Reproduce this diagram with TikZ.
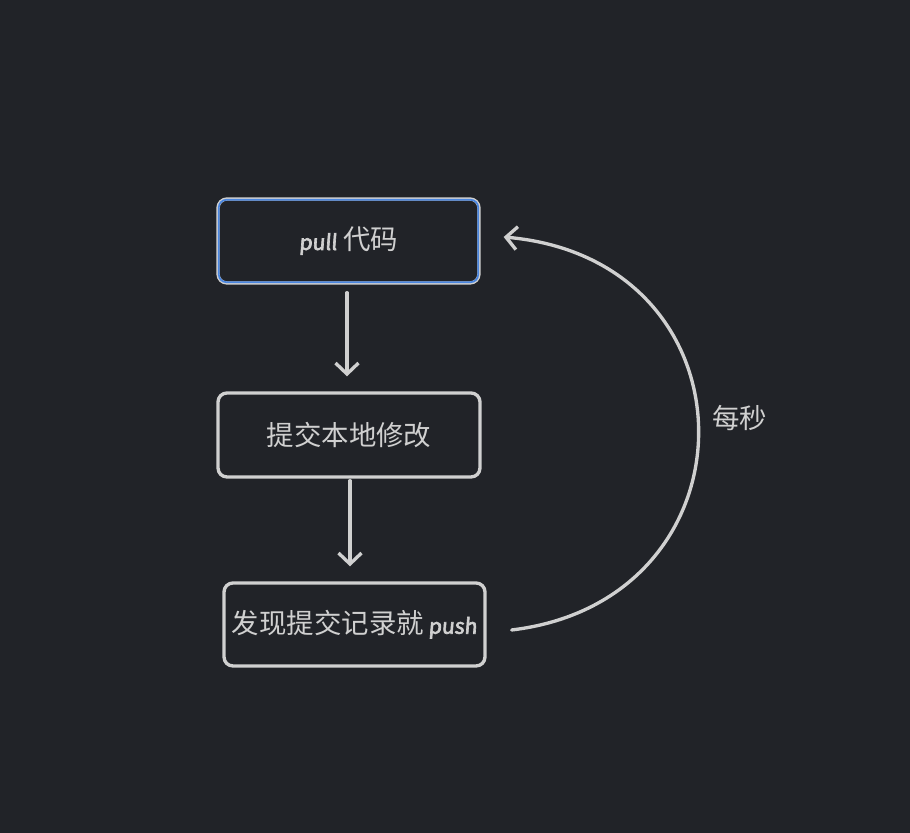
\documentclass[tikz,border=0pt]{standalone}
\usepackage{fontspec}
\setmainfont{Noto Sans CJK SC}
\newfontfamily\handfont[FakeBold=3,FakeSlant=0.08]{Noto Sans CJK SC}
\usetikzlibrary{arrows.meta}
\definecolor{bgcol}{HTML}{212328}
\definecolor{inkcol}{HTML}{D0D0D0}
\definecolor{selblue}{HTML}{4A86E0}
\newcommand{\hand}[1]{{\handfont\fontsize{12}{15}\selectfont #1}}
\tikzset{
  stepbox/.style={draw=inkcol, line width=1.9pt, rounded corners=0.18cm,
    minimum width=5.22cm, minimum height=1.68cm, text=inkcol,
    font=\fontsize{15.6}{18}\selectfont},
  flow/.style={draw=inkcol, line width=1.9pt, line cap=round,
    -{Straight Barb[length=2.2mm,width=4.6mm,line width=1.9pt]}}
}
\begin{document}
\begin{tikzpicture}
        \fill[bgcol] (0,0) rectangle (18.2,16.66);
        \useasboundingbox (0,0) rectangle (18.2,16.66);
        % the three steps
        \node[stepbox]  (pull)   at (6.97,11.84) {\hand{pull} 代码};
        \node[stepbox, minimum width=5.24cm] (commit) at (6.98,7.96) {提交本地修改};
        \node[stepbox, minimum height=1.66cm] (push) at (7.09,4.17) {发现提交记录就\,\hand{push}};
        \draw[selblue, line width=1pt, rounded corners=0.15cm]
              ([shift={(0.05,0.05)}]pull.south west) rectangle ([shift={(-0.05,-0.05)}]pull.north east);
        % arrows
        \draw[flow, shorten <=0.16cm, shorten >=0.3cm] ([xshift=-0.03cm]pull.south) -- ([xshift=-0.03cm]pull.south |- commit.north);
        \draw[flow, shorten <=0.04cm, shorten >=0.3cm] ([xshift=0.02cm]commit.south) -- ([xshift=0.02cm]commit.south |- push.north);
        \draw[flow] ([shift={(0.5,-0.11)}]push.east) .. controls +(5,0.6) and +(5.16,-0.46) .. ([shift={(0.46,0.08)}]pull.east);
        \node[text=inkcol, font=\fontsize{15.6}{18}\selectfont] (persec) at (14.79,8.29) {每秒};
\end{tikzpicture}
\end{document}
